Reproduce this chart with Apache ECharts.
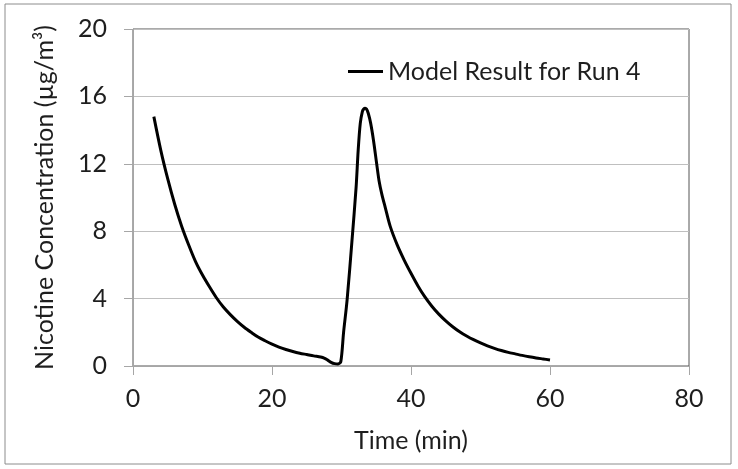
<!DOCTYPE html>
<html>
<head>
<meta charset="utf-8">
<script src="https://cdn.jsdelivr.net/npm/echarts@6/dist/echarts.min.js"></script>
<style>
  html, body { margin: 0; padding: 0; background: #fff; }
  #chart { width: 738px; height: 469px; }
</style>
</head>
<body>
<div id="chart"></div>
<script>
// model output (time in min, concentration in ug/m3)
const times = [
  3, 4, 5, 6, 7, 8, 9, 10, 11, 12, 13, 14, 15, 16, 17, 18, 19, 20,
  21, 22, 23, 24, 25, 26, 27, 27.5, 28, 28.5, 29, 29.5, 29.9,
  30.3, 30.8, 31.5, 32.1, 32.4, 32.7, 33.0, 33.2, 33.4, 33.6, 33.85,
  34.2, 34.6, 35.06, 35.4, 35.8, 36.3, 37, 38, 39, 40, 41, 42, 43, 44,
  45, 46, 47, 48, 49, 50, 51, 52, 53, 54, 55, 56, 57, 58, 59, 60
];
const concentration = [
  14.8, 12.8, 11.1, 9.6, 8.3, 7.2, 6.2, 5.4, 4.7, 4.05, 3.5, 3.05, 2.65, 2.3, 2.0, 1.72, 1.5, 1.3,
  1.12, 0.98, 0.86, 0.76, 0.68, 0.6, 0.53, 0.47, 0.35, 0.22, 0.14, 0.12, 0.26,
  2.0, 3.9, 7.4, 10.6, 12.8, 14.4, 15.1, 15.25, 15.3, 15.25, 15.0,
  14.4, 13.4, 12.0, 11.0, 10.2, 9.4, 8.3, 7.2, 6.3, 5.5, 4.75, 4.1, 3.55, 3.08,
  2.68, 2.33, 2.03, 1.78, 1.56, 1.37, 1.2, 1.05, 0.92, 0.81, 0.72, 0.63, 0.55, 0.48, 0.42, 0.36
];
const xTicks = [0, 20, 40, 60, 80];
const yTicks = [0, 4, 8, 12, 16, 20];

const FONT = 'Lato';
const TEXT_COLOR = '#1e1e1e';

const chart = echarts.init(document.getElementById('chart'), null, { renderer: 'canvas' });

const points = times.map((t, i) => [t, concentration[i]]);

const option = {
  animation: false,
  backgroundColor: '#fff',
  textStyle: { fontFamily: FONT, color: TEXT_COLOR },
  grid: {
    left: 133,
    right: 49,
    top: 29,
    bottom: 103,
    show: true,
    borderColor: '#555',
    borderWidth: 1,
    containLabel: false
  },
  legend: {
    left: 348,
    top: 59,
    padding: 0,
    icon: 'rect',
    itemWidth: 35,
    itemHeight: 3,
    itemGap: 10,
    textStyle: { fontFamily: FONT, fontSize: 25, color: TEXT_COLOR },
    data: ['Model Result for Run 4']
  },
  xAxis: {
    type: 'value',
    min: xTicks[0],
    max: xTicks[xTicks.length - 1],
    interval: 20,
    name: 'Time (min)',
    nameLocation: 'middle',
    nameGap: 62,
    nameTextStyle: { fontFamily: FONT, fontSize: 25, color: TEXT_COLOR },
    axisLine: { show: true, lineStyle: { color: '#a6a6a6', width: 1 } },
    axisTick: { show: true, inside: false, length: 9, lineStyle: { color: '#a6a6a6' } },
    axisLabel: { fontFamily: FONT, fontSize: 25, color: TEXT_COLOR, margin: 20 },
    splitLine: { show: false }
  },
  yAxis: {
    type: 'value',
    min: yTicks[0],
    max: yTicks[yTicks.length - 1],
    interval: 4,
    name: 'Nicotine Concentration (\u00b5g/m\u00b3)',
    nameLocation: 'middle',
    nameGap: 76,
    nameRotate: 90,
    nameTextStyle: { fontFamily: FONT, fontSize: 25, color: TEXT_COLOR },
    axisLine: { show: true, lineStyle: { color: '#a6a6a6', width: 1 } },
    axisTick: { show: true, inside: false, length: 9, lineStyle: { color: '#a6a6a6' } },
    axisLabel: { fontFamily: FONT, fontSize: 25, color: TEXT_COLOR, margin: 26 },
    splitLine: { show: true, lineStyle: { color: '#bfbfbf', width: 1 } }
  },
  graphic: [
    {
      type: 'rect',
      shape: { x: 5, y: 4, width: 726, height: 460 },
      style: { fill: null, stroke: '#8c8c8c', lineWidth: 1 },
      silent: true,
      z: -1
    }
  ],
  series: [
    {
      name: 'Model Result for Run 4',
      type: 'line',
      data: points,
      showSymbol: false,
      symbol: 'none',
      smooth: 0.3,
      lineStyle: { color: '#000', width: 3 },
      itemStyle: { color: '#000' }
    }
  ]
};

chart.setOption(option);
</script>
</body>
</html>
